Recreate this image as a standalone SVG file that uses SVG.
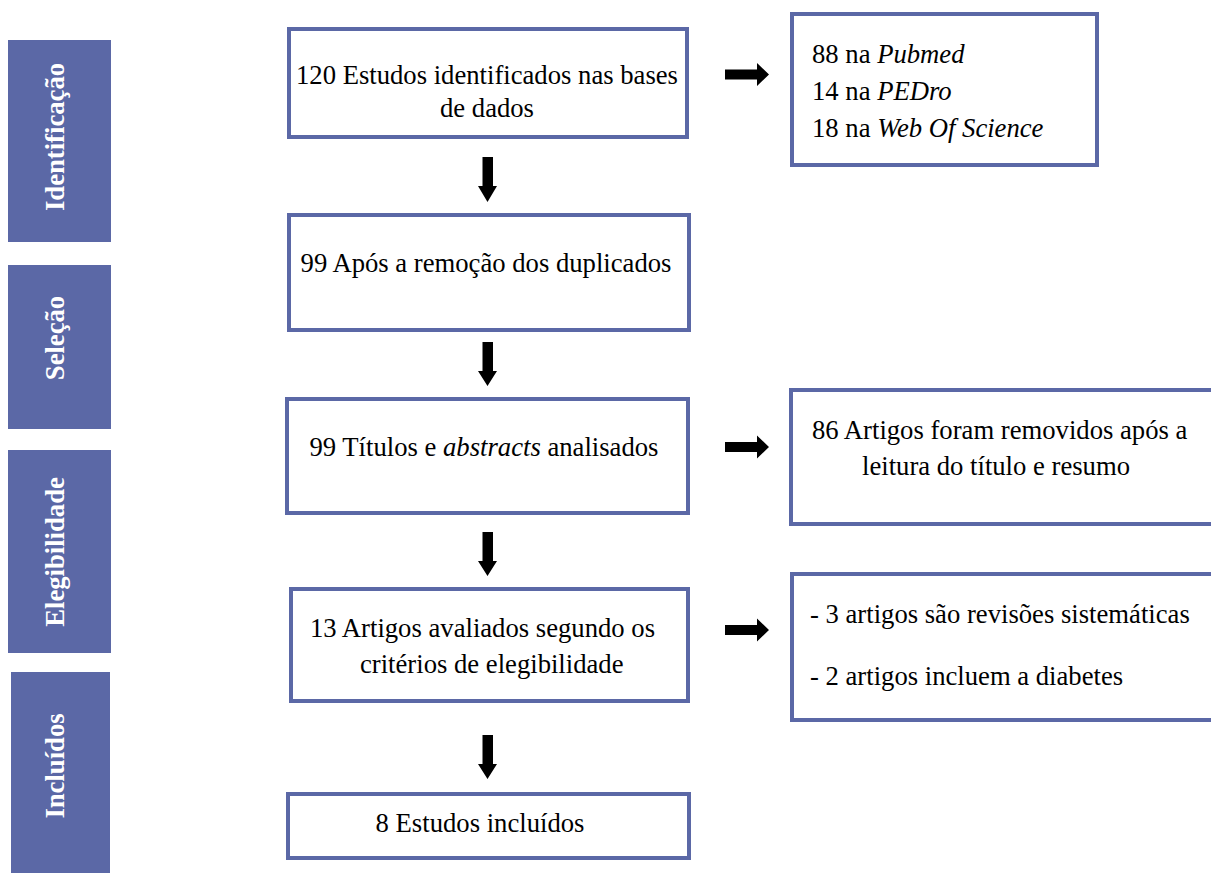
<svg xmlns="http://www.w3.org/2000/svg" width="1211" height="873" viewBox="0 0 1211 873">
<style>
.bar{fill:#5B68A6}
.bl{font-weight:bold;font-size:26.67px;fill:#ffffff;text-anchor:middle}
.box{fill:#ffffff;stroke:#5B68A6;stroke-width:4}
.t{font-size:26.67px;fill:#000000}
.c{text-anchor:middle}
.arr{fill:#000000}
</style>
<rect width="1211" height="873" fill="#ffffff"/>
<g font-family="'Liberation Serif', 'Times New Roman', serif">
<g id="stage-identificacao"><rect class="bar" x="8" y="40" width="103" height="202"/><text class="bl" transform="translate(64,137) rotate(-90)">Identificação</text></g>
<g id="stage-selecao"><rect class="bar" x="8" y="265" width="103" height="164"/><text class="bl" transform="translate(64,338) rotate(-90)">Seleção</text></g>
<g id="stage-elegibilidade"><rect class="bar" x="8" y="450" width="103" height="203"/><text class="bl" transform="translate(64,552) rotate(-90)">Elegibilidade</text></g>
<g id="stage-incluidos"><rect class="bar" x="11" y="672" width="99" height="201"/><text class="bl" transform="translate(64,766) rotate(-90)">Incluídos</text></g>

<g id="n-identificados"><rect class="box" x="289" y="29" width="398" height="108"/><text class="t c" x="487" y="84">120 Estudos identificados nas bases</text><text class="t c" x="487" y="117">de dados</text></g>
<g id="n-bases"><rect class="box" x="792" y="14" width="305" height="151"/><text class="t" x="812" y="63">88 na <tspan font-style="italic">Pubmed</tspan></text><text class="t" x="812" y="100">14 na <tspan font-style="italic">PEDro</tspan></text><text class="t" x="812" y="137">18 na <tspan font-style="italic">Web Of Science</tspan></text></g>
<g id="n-duplicados"><rect class="box" x="289" y="215" width="400" height="115"/><text class="t c" x="486" y="272">99 Após a remoção dos duplicados</text></g>
<g id="n-titulos"><rect class="box" x="287" y="399" width="401" height="114"/><text class="t c" x="484" y="456">99 Títulos e <tspan font-style="italic">abstracts</tspan> analisados</text></g>
<g id="n-removidos"><rect class="box" x="791" y="390" width="430" height="134"/><text class="t" x="812" y="439">86 Artigos foram removidos após a</text><text class="t" x="862" y="475">leitura do título e resumo</text></g>
<g id="n-avaliados"><rect class="box" x="291" y="589" width="397" height="112"/><text class="t" x="310" y="637">13 Artigos avaliados segundo os</text><text class="t" x="360" y="673">critérios de elegibilidade</text></g>
<g id="n-excluidos"><rect class="box" x="792" y="574" width="430" height="146"/><text class="t" x="810" y="623">- 3 artigos são revisões sistemáticas</text><text class="t" x="810" y="685">- 2 artigos incluem a diabetes</text></g>
<g id="n-incluidos"><rect class="box" x="288" y="794" width="401" height="64"/><text class="t c" x="480" y="832">8 Estudos incluídos</text></g>
</g>
<g id="connectors">
<polygon class="arr" points="482.5,157 493,157 493,186 497,186 487.5,202 478,186 482.5,186"/>
<polygon class="arr" points="482.5,342 493,342 493,371 497,371 487.5,386 478,371 482.5,371"/>
<polygon class="arr" points="482.5,532 493,532 493,561 497,561 487.5,576 478,561 482.5,561"/>
<polygon class="arr" points="482.5,735 493,735 493,764 497,764 487.5,779 478,764 482.5,764"/>
<polygon class="arr" points="725,69.5 757,69.5 757,63 769,74.5 757,86 757,79.5 725,79.5"/>
<polygon class="arr" points="725,442 757,442 757,435.5 769,447 757,458.5 757,452 725,452"/>
<polygon class="arr" points="725,625 757,625 757,618.5 769,630 757,641.5 757,635 725,635"/>
</g>
</svg>
